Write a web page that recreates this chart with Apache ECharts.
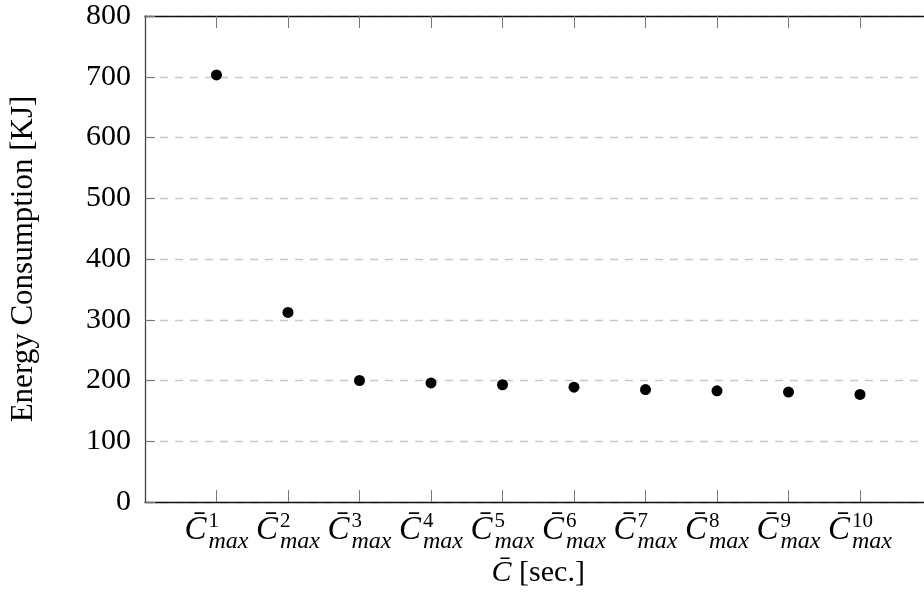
<!DOCTYPE html>
<html>
<head>
<meta charset="utf-8">
<script src="https://cdn.jsdelivr.net/npm/echarts@6/dist/echarts.min.js"></script>
<style>html,body{margin:0;padding:0;background:#fff;}#c{width:924px;height:612px;}</style>
</head>
<body>
<div id="c"></div>
<script>
// ---- data ----
var categoryIndex = [1, 2, 3, 4, 5, 6, 7, 8, 9, 10];
var superscripts = ['1', '2', '3', '4', '5', '6', '7', '8', '9', '10'];
var energy = [703, 312, 200, 196, 193, 189, 185, 183, 181, 177];
var yTicks = [0, 100, 200, 300, 400, 500, 600, 700, 800];

var FONT = 'Liberation Serif';
var chart = echarts.init(document.getElementById('c'), null, {renderer: 'canvas'});

var points = categoryIndex.map(function (x, i) { return [x, energy[i]]; });

chart.setOption({
  animation: false,
  backgroundColor: '#fff',
  grid: {left: 145, right: -7.5, top: 16, bottom: 110, containLabel: false, outerBoundsMode: 'none'},
  xAxis: [{
    type: 'value', position: 'bottom', min: 0, max: 11, interval: 1,
    axisLine: {show: true, lineStyle: {color: '#111', width: 1.3}},
    axisTick: {show: true, inside: true, length: 12, customValues: categoryIndex, lineStyle: {color: '#777', width: 1}},
    splitLine: {show: false},
    axisLabel: {
      show: true, margin: 12, customValues: categoryIndex, color: '#000',
      formatter: function (v) {
        var i = categoryIndex.indexOf(Math.round(v));
        if (i < 0) return '';
        return '{sp|}{n|' + superscripts[i] + '}\n{c|C\u0304}{m|max}';
      },
      rich: {
        sp: {width: 24, lineHeight: 15, align: 'left'},
        n: {fontFamily: FONT, fontSize: 21, lineHeight: 15, align: 'left', color: '#000'},
        c: {fontFamily: FONT, fontSize: 33, fontStyle: 'italic', width: 24, lineHeight: 2, padding: [0, 0, 24, 0], align: 'left', color: '#000'},
        m: {fontFamily: FONT, fontSize: 24, fontStyle: 'italic', lineHeight: 26, align: 'left', color: '#000'}
      }
    },
    name: '{i|C\u0304} [sec.]', nameLocation: 'middle', nameGap: 56, nameMoveOverlap: false,
    nameTextStyle: {fontFamily: FONT, fontSize: 30, color: '#000',
      rich: {i: {fontFamily: FONT, fontSize: 30, fontStyle: 'italic', color: '#000'}}}
  }, {
    type: 'value', position: 'top', min: 0, max: 11, interval: 1,
    axisLine: {show: true, lineStyle: {color: '#111', width: 1.3}},
    axisTick: {show: true, inside: true, length: 12, customValues: categoryIndex, lineStyle: {color: '#777', width: 1}},
    axisLabel: {show: false},
    splitLine: {show: false}
  }],
  yAxis: {
    type: 'value', min: 0, max: 800, interval: 100,
    axisLine: {show: true, lineStyle: {color: '#444', width: 1.3}},
    axisTick: {show: true, inside: true, length: 10, customValues: yTicks, lineStyle: {color: '#777', width: 1}},
    axisLabel: {fontFamily: FONT, fontSize: 30, color: '#000', margin: 14},
    splitLine: {show: true, lineStyle: {color: '#c8c8c8', width: 1.3, type: [8, 7]}},
    name: 'Energy Consumption [KJ]', nameLocation: 'middle', nameGap: 106, nameMoveOverlap: false,
    nameTextStyle: {fontFamily: FONT, fontSize: 31, color: '#000'}
  },
  series: [{
    type: 'scatter', xAxisIndex: 0, data: points,
    symbol: 'circle', symbolSize: 11,
    itemStyle: {color: '#000', opacity: 1}
  }]
});
</script>
</body>
</html>
